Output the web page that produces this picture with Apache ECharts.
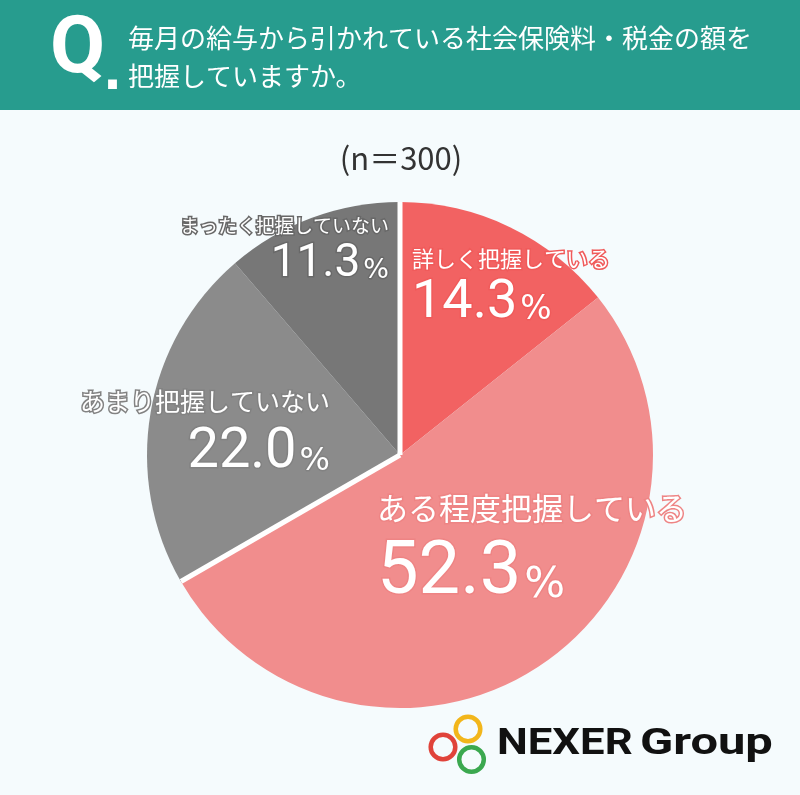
<!DOCTYPE html>
<html>
<head>
<meta charset="utf-8">
<script src="https://cdn.jsdelivr.net/npm/echarts@6/dist/echarts.min.js"></script>
<style>
html,body{margin:0;padding:0;background:#F5FBFD;}
#chart{width:800px;height:795px;}
</style>
</head>
<body>
<div id="chart"></div>
<script>
// ---- data ----
const CATEGORIES = ['詳しく把握している', 'ある程度把握している', 'あまり把握していない', 'まったく把握していない'];
const VALUES = [14.3, 52.3, 22.0, 11.3];
const SLICE_COLORS = ['#F26262', '#F18D8D', '#8B8B8B', '#777777'];
const OUTLINE_COLORS = ['#F05A5A', '#EE8484', '#828282', '#686868'];
const GROUPS = [[0, 1], [2, 3]];          // 把握している / していない
const QUESTION_LINES = ['毎月の給与から引かれている社会保険料・税金の額を', '把握していますか。'];
const SAMPLE_TEXT = '(n＝300)';

// ---- layout ----
const CENTER = [400, 455];
const RADIUS = 253;
const LABEL_LAYOUT = [
  { x: 412, align: 'left',  cy: 259, by: 322, fn: 22, fd: 54, fp: 33 },
  { x: 377, align: 'left',  cy: 508, by: 600, fn: 31, fd: 74, fp: 43 },
  { x: 330, align: 'right', cy: 401, by: 472, fn: 25, fd: 56, fp: 32 },
  { x: 389, align: 'right', cy: 226, by: 280, fn: 19, fd: 46, fp: 27 }
];
const JP = '"Noto Sans CJK JP", "Noto Sans", sans-serif';
const NUM = 'Roboto, "Noto Sans", sans-serif';
const PCT = '"DejaVu Sans", sans-serif';

function geom(L) {
  const lineBottom = L.by + 0.16 * L.fd;
  const lineTop = lineBottom - L.fd;
  const top = 2 * L.cy - lineTop;
  return { top: top, nameLH: lineTop - top, pad: Math.max(0, 0.154 * (L.fd - L.fp)) };
}

const pieData = CATEGORIES.map(function (name, i) {
  const L = LABEL_LAYOUT[i];
  const g = geom(L);
  const common = { color: '#fff', textBorderColor: OUTLINE_COLORS[i], textBorderWidth: 3, align: L.align };
  return {
    name: name,
    value: VALUES[i],
    itemStyle: { color: SLICE_COLORS[i] },
    label: {
      show: true,
      position: 'inside',
      color: '#fff',
      textBorderColor: OUTLINE_COLORS[i],
      textBorderWidth: 3,
      formatter: function (p) {
        return '{n|' + p.name + '}\n{v|' + Number(p.value).toFixed(1) + '}{p|%}';
      },
      rich: {
        n: Object.assign({}, common, { fontFamily: JP, fontSize: L.fn, lineHeight: g.nameLH, verticalAlign: 'middle' }),
        v: Object.assign({}, common, { fontFamily: NUM, fontWeight: 'normal', fontSize: L.fd, lineHeight: L.fd, verticalAlign: 'bottom' }),
        p: Object.assign({}, common, { fontFamily: PCT, fontSize: L.fp, lineHeight: L.fd, verticalAlign: 'bottom', padding: [0, 0, g.pad, 3] })
      }
    }
  };
});

// boundaries between the two groups (cumulative values)
const TOTAL = VALUES.reduce(function (s, v) { return s + v; }, 0);
const BOUNDARIES = [];
(function () {
  let acc = 0;
  GROUPS.forEach(function (idx) {
    idx.forEach(function (i) { acc += VALUES[i]; });
    BOUNDARIES.push(acc);
  });
})();

const separatorSeries = BOUNDARIES.map(function (b) {
  return {
    type: 'line',
    coordinateSystem: 'polar',
    silent: true,
    z: 5,
    symbol: 'none',
    lineStyle: { color: '#FFFFFF', width: 5, cap: 'butt' },
    data: [[0, b], [1, b]]
  };
});

const chart = echarts.init(document.getElementById('chart'), null, { renderer: 'canvas' });
chart.setOption({
  backgroundColor: '#F5FBFD',
  animation: false,
  polar: { center: CENTER, radius: RADIUS },
  angleAxis: {
    type: 'value', min: 0, max: TOTAL, startAngle: 90, clockwise: true,
    axisLine: { show: false }, axisTick: { show: false }, axisLabel: { show: false }, splitLine: { show: false }
  },
  radiusAxis: {
    type: 'value', min: 0, max: 1,
    axisLine: { show: false }, axisTick: { show: false }, axisLabel: { show: false }, splitLine: { show: false }
  },
  series: [
    {
      type: 'pie',
      center: CENTER,
      radius: RADIUS,
      startAngle: 90,
      clockwise: true,
      silent: true,
      avoidLabelOverlap: false,
      z: 2,
      itemStyle: { borderWidth: 0 },
      labelLine: { show: false },
      emphasis: { disabled: true },
      labelLayout: function (params) {
        const L = LABEL_LAYOUT[params.dataIndex];
        return { x: L.x, y: geom(L).top, align: L.align, verticalAlign: 'top' };
      },
      data: pieData
    }
  ].concat(separatorSeries),
  graphic: [
    { type: 'rect', z: 0, shape: { x: 0, y: 0, width: 800, height: 110 }, style: { fill: '#279C8E' } },
    { type: 'text', x: 50, y: 52, style: { text: 'Q', font: 'bold 80px Roboto', fill: '#fff', verticalAlign: 'middle' } },
    { type: 'text', x: 103, y: 76, style: { text: '.', font: 'bold 50px "DejaVu Sans"', fill: '#fff', verticalAlign: 'middle' } },
    { type: 'text', x: 128, y: 19, style: { text: QUESTION_LINES.join('\n'), fontFamily: JP, fontSize: 26, lineHeight: 38, fill: '#fff', verticalAlign: 'top' } },
    { type: 'text', x: 401, y: 158, style: { text: SAMPLE_TEXT, fontFamily: JP, fontSize: 31, fill: '#333', align: 'center', verticalAlign: 'middle' } },
    // logo
    { type: 'circle', shape: { cx: 468, cy: 729, r: 12.3 }, style: { fill: 'none', stroke: '#F2B61B', lineWidth: 4.5 } },
    { type: 'circle', shape: { cx: 443, cy: 747, r: 12.3 }, style: { fill: 'none', stroke: '#E0433A', lineWidth: 4.5 } },
    { type: 'circle', shape: { cx: 471.5, cy: 759.5, r: 12.3 }, style: { fill: 'none', stroke: '#3BA84F', lineWidth: 4.5 } },
    { type: 'text', x: 497, y: 745, scaleX: 1.18, style: { text: 'NEXER', font: 'bold 37px Roboto', fill: '#111', verticalAlign: 'middle' } },
    { type: 'text', x: 640, y: 745, scaleX: 1.32, style: { text: 'Group', font: 'bold 37px Roboto', fill: '#111', verticalAlign: 'middle' } }
  ]
});
</script>
</body>
</html>
